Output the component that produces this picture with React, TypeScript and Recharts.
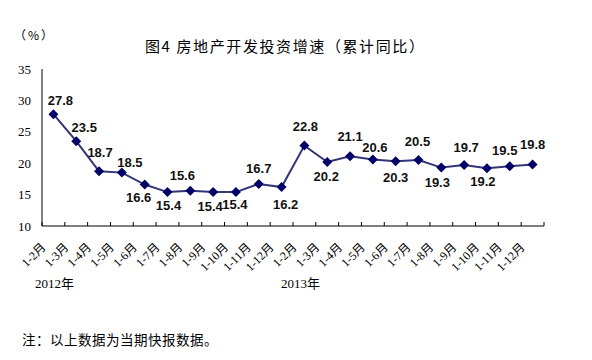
import { Line, LineChart, XAxis, YAxis } from 'recharts';

const months = [
  '1-2月', '1-3月', '1-4月', '1-5月', '1-6月', '1-7月', '1-8月', '1-9月', '1-10月', '1-11月', '1-12月',
  '1-2月', '1-3月', '1-4月', '1-5月', '1-6月', '1-7月', '1-8月', '1-9月', '1-10月', '1-11月', '1-12月',
];
const growth = [
  27.8, 23.5, 18.7, 18.5, 16.6, 15.4, 15.6, 15.4, 15.4, 16.7, 16.2,
  22.8, 20.2, 21.1, 20.6, 20.3, 20.5, 19.3, 19.7, 19.2, 19.5, 19.8,
];
const yTicks = [10, 15, 20, 25, 30, 35];

// label placement relative to each point [dx, dy]
const labelOffsets: [number, number][] = [
  [7, -14], [8, -14], [1, -19], [8, -10], [-6, 13], [1, 13], [-8, -15], [-3, 14], [-1, 12], [0, -15], [4, 17],
  [1, -19], [-1, 15], [0, -20], [2, -12], [0, 16], [-1, -19], [-4, 15], [2, -18], [-4, 13], [-5, -16], [0, -20],
];

const data = months.map((m, i) => ({ month: m, value: growth[i] }));

const W = 592;
const H = 360;
const plotLeft = 42;
const plotRight = 544;
const plotBottom = 226;
const band = (plotRight - plotLeft) / months.length;

function XTick(props: any) {
  const { x, payload, index } = props;
  const bx = x - band / 2;
  return (
    <g>
      <line x1={bx} x2={bx} y1={plotBottom} y2={plotBottom - 4} stroke="#000" />
      {index === months.length - 1 && (
        <line x1={x + band / 2} x2={x + band / 2} y1={plotBottom} y2={plotBottom - 4} stroke="#000" />
      )}
      <text
        x={x - 7}
        y={plotBottom + 22}
        transform={`rotate(-45 ${x - 7} ${plotBottom + 22})`}
        textAnchor="end"
        fontSize={12}
        fontFamily="'Liberation Serif', 'Noto Sans CJK SC'"
        fill="#000"
      >
        {payload.value}
      </text>
    </g>
  );
}

function Diamond(props: any) {
  const { cx, cy, index } = props;
  const r = 5;
  return (
    <path
      key={`d-${index}`}
      d={`M${cx},${cy - r}L${cx + r},${cy}L${cx},${cy + r}L${cx - r},${cy}Z`}
      fill="#000066"
    />
  );
}

function ValueLabel(props: any) {
  const { x, y, value, index } = props;
  const [dx, dy] = labelOffsets[index] || [0, -14];
  return (
    <text
      key={`l-${index}`}
      x={x + dx}
      y={y + dy}
      textAnchor="middle"
      dominantBaseline="central"
      fontSize={13}
      fontWeight="bold"
      fontFamily="'Liberation Sans', Arial, sans-serif"
      fill="#111"
    >
      {value}
    </text>
  );
}

export default function App() {
  return (
    <div style={{ position: 'absolute', left: 0, top: 0, width: W, height: H, background: '#fff' }}>
      <LineChart
        width={W}
        height={H}
        data={data}
        margin={{ top: 69, right: W - plotRight, bottom: 0, left: 12 }}
      >
        <XAxis
          dataKey="month"
          interval={0}
          height={H - plotBottom}
          padding={{ left: band / 2, right: band / 2 }}
          tickLine={false}
          tickSize={0}
          tickMargin={0}
          axisLine={{ stroke: '#000' }}
          tick={<XTick />}
        />
        <YAxis
          width={30}
          domain={[10, 35]}
          ticks={yTicks}
          interval={0}
          tickLine={false}
          tickMargin={5}
          axisLine={{ stroke: '#000' }}
          tick={{ fontSize: 13, fontFamily: "'Liberation Serif', serif", fill: '#000' }}
        />
        <Line
          dataKey="value"
          stroke="#333377"
          strokeWidth={2}
          dot={<Diamond />}
          activeDot={false}
          label={<ValueLabel />}
          isAnimationActive={false}
        />
      </LineChart>
      <svg width={W} height={H} style={{ position: 'absolute', left: 0, top: 0, pointerEvents: 'none' }}>
        <text x={14} y={40} fontSize={12} letterSpacing={2} fontFamily="'Noto Sans CJK SC'" fill="#000">（%）</text>
        <text x={145} y={52} fontSize={15} letterSpacing={1.6} fontFamily="'Noto Sans CJK SC'" fill="#000">图4  房地产开发投资增速（累计同比）</text>
        <text x={35} y={288} fontSize={13} fontFamily="'Liberation Serif', 'Noto Sans CJK SC'" fill="#000">2012年</text>
        <text x={281} y={288} fontSize={13} fontFamily="'Liberation Serif', 'Noto Sans CJK SC'" fill="#000">2013年</text>
        <text x={22} y={345} fontSize={13.5} letterSpacing={0.5} fontFamily="'Noto Sans CJK SC'" fill="#000">注：以上数据为当期快报数据。</text>
      </svg>
    </div>
  );
}
